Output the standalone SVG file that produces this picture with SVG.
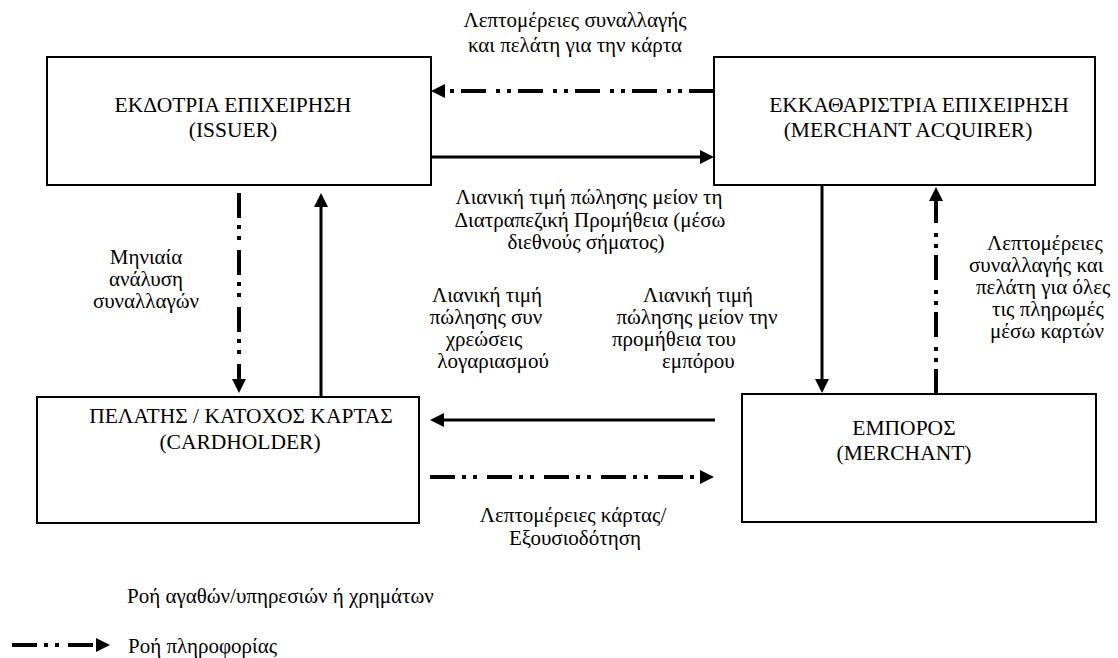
<svg xmlns="http://www.w3.org/2000/svg" width="1118" height="658" viewBox="0 0 1118 658">
<defs>
<style>
.box{fill:#fff;stroke:#000;stroke-width:2}
.solid{fill:none;stroke:#000;stroke-width:3}
.info{fill:none;stroke:#000;stroke-width:4;stroke-dasharray:25 7 4 7 4 10}
</style>
<marker id="ah" viewBox="0 0 14 14" markerWidth="14" markerHeight="14" refX="0" refY="7" orient="auto" markerUnits="userSpaceOnUse"><path d="M0,0 L14,7 L0,14 z" fill="#000"/></marker>
</defs>
<rect width="1118" height="658" fill="#fff"/>
<g id="issuer">
<rect class="box" x="47" y="57" width="384" height="128"/>
<text font-family="Liberation Serif, serif" font-size="21.5" text-anchor="middle" x="233" y="112">ΕΚΔΟΤΡΙΑ ΕΠΙΧΕΙΡΗΣΗ</text>
<text font-family="Liberation Serif, serif" font-size="21.5" text-anchor="middle" x="233" y="137">(ISSUER)</text>
</g>
<g id="acquirer">
<rect class="box" x="714" y="57" width="381" height="128"/>
<text font-family="Liberation Serif, serif" font-size="21.5" text-anchor="middle" x="919" y="112">ΕΚΚΑΘΑΡΙΣΤΡΙΑ ΕΠΙΧΕΙΡΗΣΗ</text>
<text font-family="Liberation Serif, serif" font-size="21.5" text-anchor="middle" x="908" y="137">(MERCHANT ACQUIRER)</text>
</g>
<g id="cardholder">
<rect class="box" x="37" y="397" width="382" height="126"/>
<text font-family="Liberation Serif, serif" font-size="21.5" text-anchor="middle" x="241" y="423">ΠΕΛΑΤΗΣ / ΚΑΤΟΧΟΣ ΚΑΡΤΑΣ</text>
<text font-family="Liberation Serif, serif" font-size="21.5" text-anchor="middle" x="240" y="449">(CARDHOLDER)</text>
</g>
<g id="merchant">
<rect class="box" x="742" y="394" width="354" height="128"/>
<text font-family="Liberation Serif, serif" font-size="21.5" text-anchor="middle" x="904" y="435">ΕΜΠΟΡΟΣ</text>
<text font-family="Liberation Serif, serif" font-size="21.5" text-anchor="middle" x="904" y="460">(MERCHANT)</text>
</g>
<g id="connectors">
<path class="info" d="M714,91 H445" marker-end="url(#ah)"/>
<path class="solid" d="M431,157 H700" marker-end="url(#ah)"/>
<path class="info" d="M239,193 V379" marker-end="url(#ah)"/>
<path class="solid" d="M321,397 V207" marker-end="url(#ah)"/>
<path class="solid" d="M822,185 V379" marker-end="url(#ah)"/>
<path class="info" d="M936,394 V201" marker-end="url(#ah)"/>
<path class="solid" d="M715,420 H444" marker-end="url(#ah)"/>
<path class="info" d="M430,477 H700" marker-end="url(#ah)"/>
</g>
<g id="labels">
<text font-family="Liberation Serif, serif" font-size="21" text-anchor="middle" x="575" y="27">Λεπτομέρειες συναλλαγής</text>
<text font-family="Liberation Serif, serif" font-size="21" text-anchor="middle" x="575" y="52">και πελάτη για την κάρτα</text>
<text font-family="Liberation Serif, serif" font-size="21" text-anchor="middle" x="589" y="204">Λιανική τιμή πώλησης μείον τη</text>
<text font-family="Liberation Serif, serif" font-size="21" text-anchor="middle" x="590" y="227">Διατραπεζική Προμήθεια (μέσω</text>
<text font-family="Liberation Serif, serif" font-size="21" text-anchor="middle" x="586" y="249">διεθνούς σήματος)</text>
<text font-family="Liberation Serif, serif" font-size="21" text-anchor="middle" x="146" y="264">Μηνιαία</text>
<text font-family="Liberation Serif, serif" font-size="21" text-anchor="middle" x="146" y="286">ανάλυση</text>
<text font-family="Liberation Serif, serif" font-size="21" text-anchor="middle" x="146" y="308">συναλλαγών</text>
<text font-family="Liberation Serif, serif" font-size="21" text-anchor="middle" x="487" y="302">Λιανική τιμή</text>
<text font-family="Liberation Serif, serif" font-size="21" text-anchor="middle" x="486" y="324">πώλησης συν</text>
<text font-family="Liberation Serif, serif" font-size="21" text-anchor="middle" x="484" y="346">χρεώσεις</text>
<text font-family="Liberation Serif, serif" font-size="21" text-anchor="middle" x="493" y="368">λογαριασμού</text>
<text font-family="Liberation Serif, serif" font-size="21" text-anchor="middle" x="698" y="302">Λιανική τιμή</text>
<text font-family="Liberation Serif, serif" font-size="21" text-anchor="middle" x="697" y="324">πώλησης μείον την</text>
<text font-family="Liberation Serif, serif" font-size="21" x="612" y="346">προμήθεια του</text>
<text font-family="Liberation Serif, serif" font-size="21" x="662" y="368">εμπόρου</text>
<text font-family="Liberation Serif, serif" font-size="21" x="987" y="250">Λεπτομέρειες</text>
<text font-family="Liberation Serif, serif" font-size="21" x="969" y="272">συναλλαγής και</text>
<text font-family="Liberation Serif, serif" font-size="21" x="976" y="294">πελάτη για όλες</text>
<text font-family="Liberation Serif, serif" font-size="21" x="992" y="316">τις πληρωμές</text>
<text font-family="Liberation Serif, serif" font-size="21" x="990" y="338">μέσω καρτών</text>
<text font-family="Liberation Serif, serif" font-size="21" text-anchor="middle" x="573" y="522">Λεπτομέρειες κάρτας/</text>
<text font-family="Liberation Serif, serif" font-size="21" text-anchor="middle" x="575" y="545">Εξουσιοδότηση</text>
</g>
<g id="legend">
<text font-family="Liberation Serif, serif" font-size="21" x="127" y="603">Ροή αγαθών/υπηρεσιών ή χρημάτων</text>
<path fill="none" stroke="#000" stroke-width="4" stroke-dasharray="25 7 4 7 4 9" d="M12,645 H96" marker-end="url(#ah)"/>
<text font-family="Liberation Serif, serif" font-size="21" x="128" y="653">Ροή πληροφορίας</text>
</g>
</svg>
